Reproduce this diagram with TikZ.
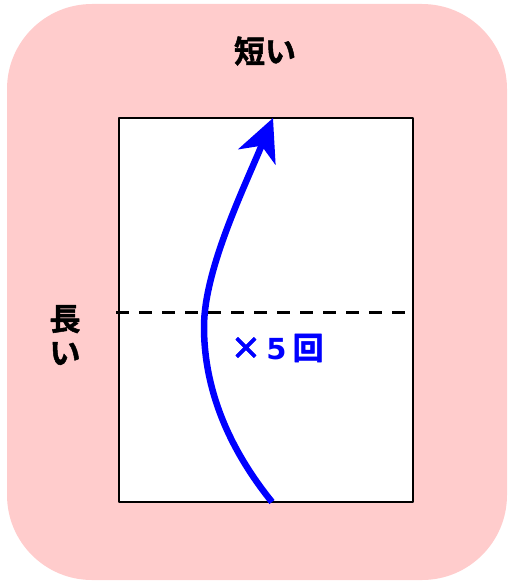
\documentclass[tikz,border=0pt]{standalone}
\usepackage{fontspec}
\setmainfont{Noto Sans CJK JP Bold}[FakeBold=1.5]
\newfontfamily\digits{DejaVu Sans Bold}
\usetikzlibrary{arrows.meta}
\definecolor{pinkbg}{HTML}{FFCCCC}
\begin{document}
\begin{tikzpicture}[x=1pt,y=-1pt,line join=round,
    font=\fontsize{31}{34}\selectfont,
    txt/.style={inner sep=0pt,align=center},
    fold/.style={line width=3pt,dash pattern=on 13pt off 10pt}]
    \useasboundingbox (0,0) rectangle (507,583);
    \fill[pinkbg,rounded corners=85pt] (7,4) rectangle (507,580);
    \node[draw,fill=white,line width=1.5pt,minimum width=294pt,minimum height=384pt,inner sep=0pt] (sheet) at (266,310) {};
    \node[txt] (short) at (265,51) {短い};
    \node[txt] (long) at (65,335) {長\\い};
    \node[txt,text=blue] (times) at (277,348) {×\hspace{5pt}{\digits\fontsize{29}{34}\selectfont 5}\hspace{6pt}回};
    \coordinate (foldL) at (116,312);
    \coordinate (foldR) at (411,312);
    \coordinate (start) at (272,502);
    \coordinate (bend) at (204,327);
    \coordinate (tip) at (273,118);
    \draw[fold] (foldL) -- (foldR);
    \draw[blue,line width=6.5pt,-{Stealth[length=42pt,width=40pt,inset=12pt]}]
    (start) .. controls (222,440) and (204,380) .. (bend)
    .. controls (204,270) and (244,188) .. (tip);
\end{tikzpicture}
\end{document}
